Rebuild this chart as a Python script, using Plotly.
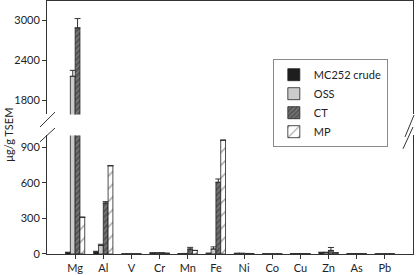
import plotly.graph_objects as go
from plotly.subplots import make_subplots

elements = ["Mg", "Al", "V", "Cr", "Mn", "Fe", "Ni", "Co", "Cu", "Zn", "As", "Pb"]

mc252 = [12, 18, 0, 8, 3, 5, 5, 0, 3, 12, 2, 0]
mc252_err = [3, 5, 0, 2, 1, 2, 1, 0, 1, 3, 0, 0]
oss = [2160, 72, 0, 8, 4, 42, 5, 0, 2, 12, 1, 0]
oss_err = [90, 10, 0, 2, 1, 18, 1, 0, 1, 3, 0, 0]
ct = [2890, 430, 0, 8, 42, 605, 4, 0, 2, 30, 2, 0]
ct_err = [140, 12, 0, 2, 14, 28, 1, 0, 1, 25, 0, 0]
mp = [310, 745, 0, 6, 30, 960, 3, 0, 2, 10, 1, 0]
mp_err = [0, 0, 0, 0, 0, 0, 0, 0, 0, 0, 0, 0]

lower_ticks = [0, 300, 600, 900]
upper_ticks = [1800, 2400, 3000]

FONT = "Lato, 'Open Sans', sans-serif"
AX = "#333333"

series = [
    ("MC252 crude", mc252, mc252_err, dict(color="#1e1e1e")),
    ("OSS", oss, oss_err, dict(color="#cccccc")),
    ("CT", ct, ct_err, dict(color="#555555",
                             pattern=dict(shape="/", fgcolor="#aaaaaa", bgcolor="#555555",
                                          size=4, solidity=0.35))),
    ("MP", mp, mp_err, dict(color="white",
                            pattern=dict(shape="/", fgcolor="#333333", bgcolor="white",
                                         size=9, solidity=0.14))),
]

fig = make_subplots(rows=2, cols=1, shared_xaxes=True, vertical_spacing=0.083,
                    row_heights=[0.45, 0.47])

for row in (1, 2):
    for name, vals, err, mk in series:
        marker = dict(mk)
        marker["line"] = dict(color="#222222", width=0.8)
        fig.add_trace(go.Bar(
            x=elements, y=vals, name=name, marker=marker,
            showlegend=(row == 2),
            error_y=dict(type="data", array=err, arrayminus=[0] * len(err),
                         symmetric=False, color=AX, thickness=1, width=3),
        ), row=row, col=1)

fig.update_layout(
    width=420, height=275,
    margin=dict(l=47, r=7, t=1, b=19),
    paper_bgcolor="white", plot_bgcolor="white",
    barmode="group", bargap=0.32, bargroupgap=0.0,
    font=dict(family=FONT, size=11, color="#222"),
    legend=dict(x=0.617, y=0.77, xanchor="left", yanchor="top",
                bordercolor="#8a8a8a", borderwidth=1, bgcolor="white",
                font=dict(family=FONT, size=11, color="#222"),
                itemwidth=30, tracegroupgap=0),
)

# upper subplot
fig.update_yaxes(row=1, col=1, range=[1585, 3295], tickvals=upper_ticks,
                 showline=True, linecolor=AX, linewidth=1, mirror=True,
                 ticks="outside", ticklen=4, tickcolor=AX, showgrid=False,
                 zeroline=False)
fig.update_xaxes(row=1, col=1, side="top", showline=True, linecolor=AX, linewidth=1,
                 ticks="", showticklabels=False, showgrid=False, range=[-1, 12])
# lower subplot
fig.update_yaxes(row=2, col=1, range=[0, 1000], tickvals=lower_ticks,
                 showline=True, linecolor=AX, linewidth=1, mirror=True,
                 ticks="outside", ticklen=4, tickcolor=AX, showgrid=False,
                 zeroline=False)
fig.update_xaxes(row=2, col=1, showline=True, linecolor=AX, linewidth=1,
                 ticks="outside", ticklen=4, tickcolor=AX, showgrid=False,
                 range=[-1, 12], tickfont=dict(size=11))

# axis title
fig.add_annotation(xref="paper", yref="paper", x=-0.105, y=0.47, text="μg/g TSEM",
                   textangle=-90, showarrow=False, font=dict(family=FONT, size=11, color="#222"),
                   xanchor="center", yanchor="middle")

# axis break marks (paper coords: plot area x 47..413, y 1..256)
def px(x):
    return (x - 47) / 366.0

def py(y):
    return (256 - y) / 255.0

for (x0, y0, x1, y1) in [(40, 128, 55, 113), (40, 143, 55, 129),
                         (405, 138, 414, 116), (403, 150, 413, 128)]:
    fig.add_shape(type="line", xref="paper", yref="paper",
                  x0=px(x0), y0=py(y0), x1=px(x1), y1=py(y1),
                  line=dict(color=AX, width=1))

fig.write_html("out.html", config={"displayModeBar": False},
               post_script="document.body.style.margin='0';document.body.style.padding='0';")
